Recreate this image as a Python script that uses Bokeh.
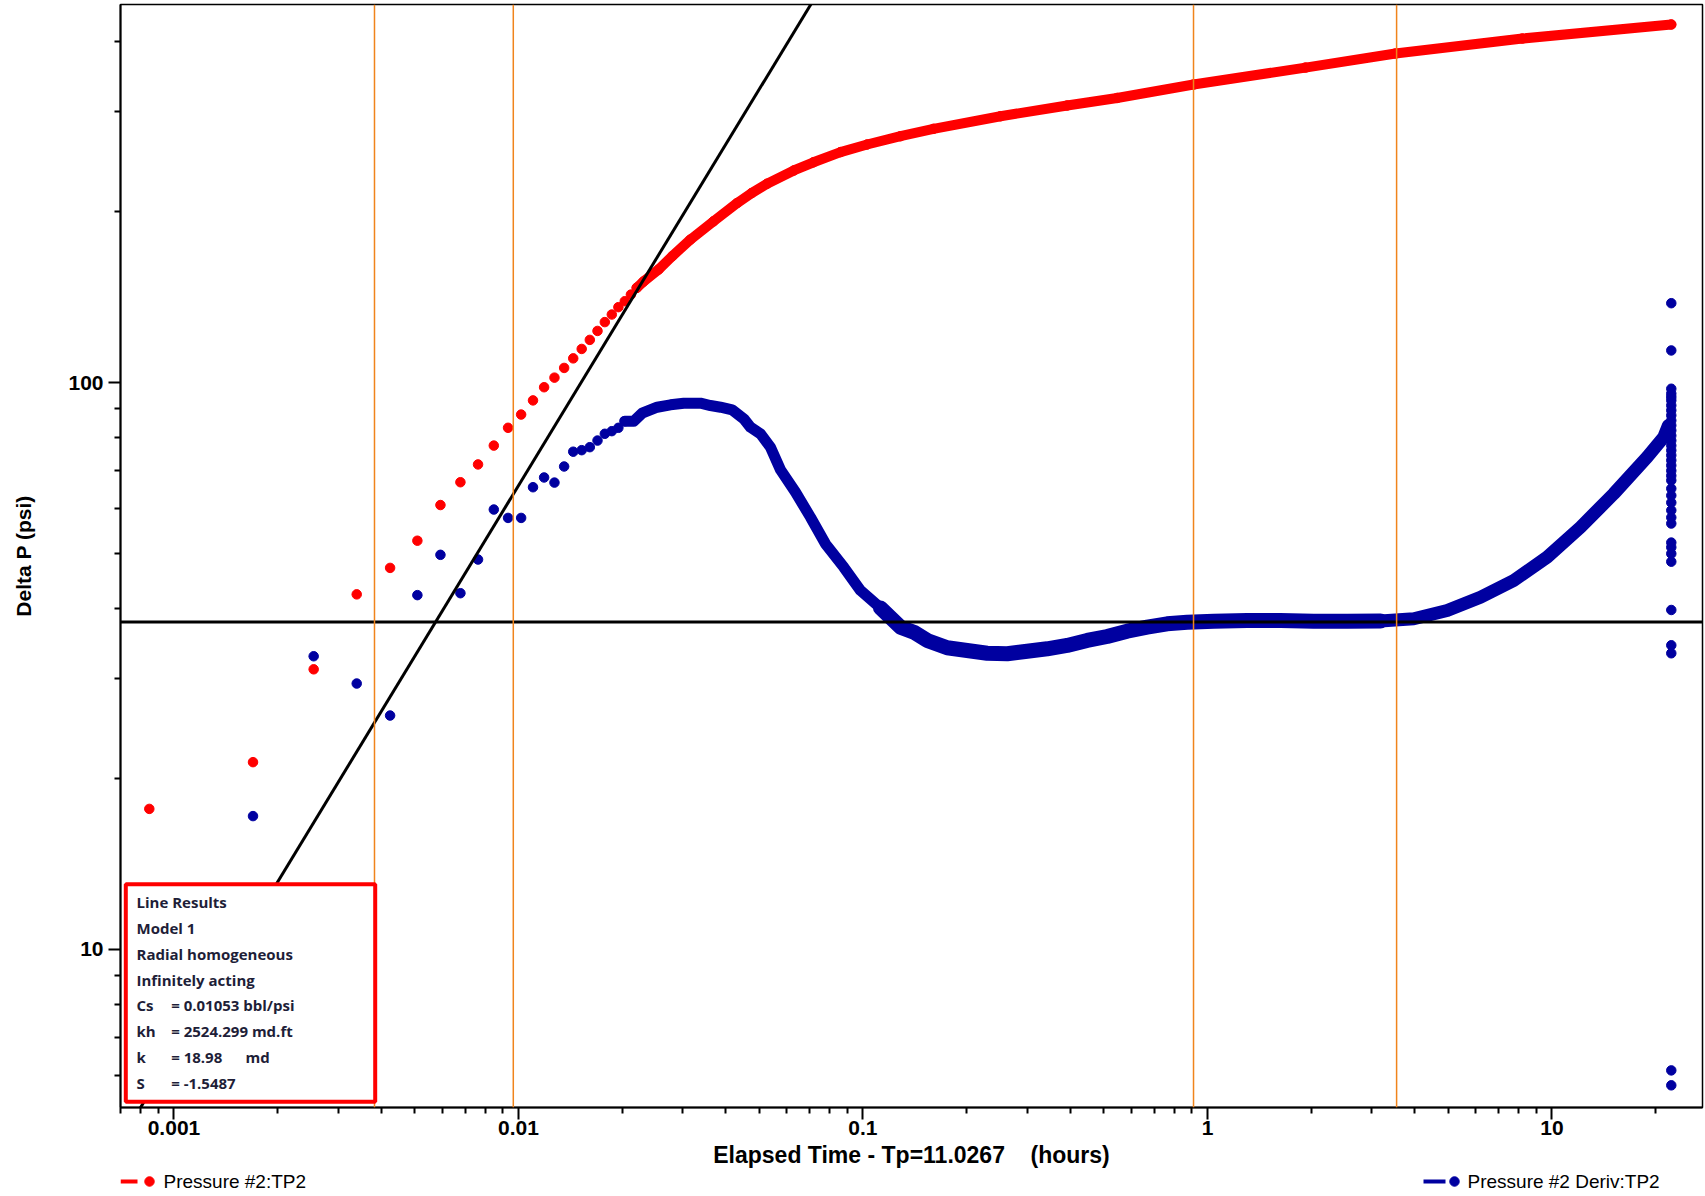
from bokeh.plotting import figure
from bokeh.layouts import column
from bokeh.models import (Range1d, FixedTicker, NumeralTickFormatter, BoxAnnotation,
                          Label, Span)
from bokeh.core.properties import value
from bokeh.embed import file_html
from bokeh.resources import INLINE

# ---------------- data ----------------
x_major = [0.001, 0.01, 0.1, 1, 10]
x_minor = [0.0007, 0.0008, 0.0009,
           0.002, 0.003, 0.004, 0.005, 0.006, 0.007, 0.008, 0.009,
           0.02, 0.03, 0.04, 0.05, 0.06, 0.07, 0.08, 0.09,
           0.2, 0.3, 0.4, 0.5, 0.6, 0.7, 0.8, 0.9,
           2, 3, 4, 5, 6, 7, 8, 9, 20]
y_major = [10, 100]
y_minor = [6, 7, 8, 9, 20, 30, 40, 50, 60, 70, 80, 90, 200, 300, 400]

# Pressure #2:TP2 -- early (separate dots)
press_early_t = [0.000848, 0.001696, 0.002544, 0.003392, 0.00424, 0.005088, 0.005936,
                 0.006784, 0.007632, 0.00848, 0.009328, 0.01018, 0.01102, 0.01187,
                 0.01272, 0.01357, 0.01442, 0.01526, 0.01611, 0.01696, 0.01781,
                 0.01866, 0.0195, 0.02035, 0.0212, 0.02205]
press_early_p = [17.7, 21.4, 31.2, 42.3, 47.1, 52.6, 60.8, 66.7, 71.7, 77.4, 83.2, 87.8,
                 93.0, 98.1, 102.0, 106.1, 110.3, 114.6, 118.9, 123.3, 127.8, 131.8,
                 135.8, 139.1, 142.9, 146.9]
# Pressure #2:TP2 -- dense part
press_t = [0.02205, 0.02307, 0.02549, 0.02794, 0.03156, 0.03681, 0.04313, 0.0475, 0.0527,
           0.063, 0.07183, 0.08605, 0.1028, 0.1285, 0.1602, 0.2507, 0.3915, 0.5468, 0.911,
           1.925, 3.513, 8.21, 22.2]
press_p = [146.9, 150.7, 158.2, 167.0, 178.7, 192.4, 207.3, 215.8, 224.2,
           236.6, 244.6, 254.9, 262.9, 271.9, 280.2, 294.9, 308.0, 317.6, 335.4,
           359.3, 380.4, 404.3, 428.0]

# Pressure #2 Deriv:TP2 -- early (separate dots)
deriv_early_t = [0.001696, 0.002544, 0.003392, 0.00424, 0.005088, 0.005936, 0.006784,
                 0.007632, 0.00848, 0.009328, 0.01018, 0.01102, 0.01187, 0.01272,
                 0.01357, 0.01442, 0.01526, 0.01611, 0.01696, 0.01781, 0.01866,
                 0.0195, 0.02035]
deriv_early_p = [17.19, 32.9, 29.45, 25.86, 42.17, 49.67, 42.5, 48.73, 59.7, 57.7, 57.7,
                 65.36, 68.0, 66.6, 71.1, 75.5, 75.97, 76.9, 79.0, 81.2, 82.07, 83.2, 85.45]
# derivative hump
deriv_hump_t = [0.02035, 0.02161, 0.02285, 0.02527, 0.02762, 0.03019, 0.03376, 0.03608,
                0.03859, 0.04173, 0.04508, 0.04714, 0.0504, 0.05389, 0.05761, 0.06369,
                0.07042, 0.07782, 0.08796, 0.09834, 0.1124]
deriv_hump_p = [85.45, 85.45, 88.28, 90.45, 91.35, 91.93, 91.93, 91.08, 90.45, 89.5, 86.3,
                83.4, 81.2, 76.9, 70.15, 64.06, 57.86, 51.94, 47.24, 42.98, 40.03]
# derivative trough and radial flow plateau
deriv_mid_t = [0.1124, 0.1285, 0.1405, 0.1536, 0.1756, 0.2006, 0.2294, 0.2622, 0.2997,
               0.3425, 0.3915, 0.4475, 0.5115, 0.5846, 0.6683, 0.7638, 0.873, 1.043,
               1.304, 1.629, 2.035, 2.544, 3.179]
deriv_mid_p = [40.03, 37.02, 36.28, 35.08, 34.05, 33.68, 33.31, 33.23, 33.58, 33.91,
               34.38, 35.08, 35.65, 36.43, 37.02, 37.53, 37.77, 37.93, 38.03, 38.03,
               37.93, 37.93, 37.97]
# derivative late rise
deriv_late_t = [3.179, 3.971, 4.964, 6.201, 7.745, 9.685, 12.1, 15.11, 18.89, 21.11, 21.78]
deriv_late_p = [37.97, 38.31, 39.62, 41.81, 44.75, 49.2, 55.56, 63.65, 73.84, 80.1, 84.0]
# derivative end points (last time)
deriv_end_t = 22.2
deriv_end_p = [138.0, 113.9, 97.5, 95.6, 94.3, 93.0, 91.1, 89.3, 87.5, 85.7, 84.0, 82.3,
               80.6, 79.0, 77.4, 75.9, 74.4, 72.9, 71.4, 69.9, 68.5, 67.2, 65.0, 63.2,
               61.4, 59.5, 57.8, 56.4, 52.2, 51.2, 49.9, 48.3, 39.7, 34.4, 33.3, 6.12, 5.76]

# analysis lines
radial_level = 37.8                     # horizontal IARF line (psi)
unit_slope_t = [0.0005, 0.1]            # unit-slope line end points
unit_slope_p = [3.29, 658.0]
marker_times = [0.00382, 0.00966, 0.911, 3.54]

results = [("Line Results", None, None), ("Model 1", None, None),
           ("Radial homogeneous", None, None), ("Infinitely acting", None, None),
           ("Cs", "= 0.01053 bbl/psi", None), ("kh", "= 2524.299 md.ft", None),
           ("k", "= 18.98", "md"), ("S", "= -1.5487", None)]

series_names = ["Pressure #2:TP2", "Pressure #2 Deriv:TP2"]

RED = "#FF0000"
BLUE = "#0000A0"
ORANGE = "#F0841C"

# ---------------- main figure ----------------
p = figure(width=1705, height=1171, x_axis_type="log", y_axis_type="log",
           x_range=Range1d(0.0006995, 27.35), y_range=Range1d(5.264, 464.2),
           output_backend="svg", toolbar_location=None,
           min_border_left=120, min_border_right=3, min_border_top=4, min_border_bottom=64,
           background_fill_color="white", border_fill_color="white")
p.grid.visible = False
p.outline_line_color = "black"
p.outline_line_width = 1.5

for ax in (p.xaxis[0], p.yaxis[0]):
    ax.axis_line_width = 2
    ax.major_tick_line_width = 2
    ax.minor_tick_line_width = 2
    ax.major_tick_out = 12
    ax.major_tick_in = 0
    ax.minor_tick_out = 6
    ax.minor_tick_in = 0
    ax.major_label_text_font = "Liberation Sans"
    ax.major_label_text_font_style = "bold"
    ax.major_label_text_font_size = "21px"
    ax.major_label_text_color = "black"
    ax.axis_label_text_font = "Liberation Sans"
    ax.axis_label_text_font_style = "bold"
    ax.axis_label_text_color = "black"
    ax.formatter = NumeralTickFormatter(format="0.[000]")

p.xaxis.ticker = FixedTicker(ticks=x_major, minor_ticks=x_minor)
p.yaxis.ticker = FixedTicker(ticks=y_major, minor_ticks=y_minor)
p.xaxis.axis_label = "Elapsed Time - Tp=11.0267\u00a0\u00a0\u00a0 (hours)"
p.xaxis.axis_label_text_font_size = "23px"
p.xaxis.major_label_standoff = 1
p.xaxis.axis_label_standoff = 4
p.yaxis.axis_label = "Delta P (psi)"
p.yaxis.axis_label_text_font_size = "21px"
p.yaxis.major_label_standoff = 5
p.yaxis.axis_label_standoff = 30

# data glyphs
DOT = 9.5
p.line(press_t, press_p, line_color=RED, line_width=10, line_join="round", line_cap="round")
p.scatter(press_early_t, press_early_p, size=DOT, color=RED)
p.scatter(press_t, press_p, size=DOT, color=RED)

p.line(deriv_hump_t, deriv_hump_p, line_color=BLUE, line_width=11, line_join="round", line_cap="round")
p.line(deriv_mid_t, deriv_mid_p, line_color=BLUE, line_width=15, line_join="round", line_cap="round")
p.line(deriv_late_t, deriv_late_p, line_color=BLUE, line_width=13, line_join="round", line_cap="round")
p.scatter(deriv_early_t, deriv_early_p, size=DOT, color=BLUE)
p.scatter([deriv_end_t] * len(deriv_end_p), deriv_end_p, size=DOT, color=BLUE)

# analysis lines
p.line(unit_slope_t, unit_slope_p, line_color="black", line_width=3)
p.add_layout(Span(location=radial_level, dimension="width", line_color="black", line_width=3))
for mt in marker_times:
    p.add_layout(Span(location=mt, dimension="height", line_color=ORANGE, line_width=1.5))

# results box
p.add_layout(BoxAnnotation(left=5.3, right=254.7, top=223.3, bottom=5.7,
                           left_units="screen", right_units="screen",
                           top_units="screen", bottom_units="screen",
                           fill_color="white", fill_alpha=1.0,
                           line_color=RED, line_alpha=1.0, line_width=4))
TXT = dict(x_units="screen", y_units="screen", text_font="Open Sans", text_font_style="bold",
           text_font_size="15px", text_color="#1E1E38", text_baseline="middle")
y0, dy = 205.3, 25.8
for i, (a, b, c) in enumerate(results):
    yy = y0 - i * dy
    p.add_layout(Label(x=16, y=yy, text=a, **TXT))
    if b:
        p.add_layout(Label(x=50.7, y=yy, text=b, **TXT))
    if c:
        p.add_layout(Label(x=125, y=yy, text=c, **TXT))

# ---------------- legend strip below ----------------
# the strip's frame is aligned with the main frame (canvas x 120..1702)
leg = figure(width=1705, height=25, x_range=Range1d(120, 1702), y_range=Range1d(0, 25),
             output_backend="svg", toolbar_location=None, min_border=0,
             x_axis_type=None, y_axis_type=None, outline_line_color=None,
             background_fill_color="white", border_fill_color="white")
leg.grid.visible = False
sw_x0 = [120, 1423]
sw_x1 = [137, 1445]
dot_x = [149, 1454]
txt_x = [163, 1467]
row_y = [15, 15]
leg.segment(x0=sw_x0, y0=row_y, x1=sw_x1, y1=row_y, line_color=[RED, BLUE], line_width=4)
leg.scatter(x=dot_x, y=row_y, size=DOT, color=[RED, BLUE])
leg.text(x=txt_x, y=row_y, text=series_names, text_font=value("Liberation Sans"),
         text_font_size="19px", text_baseline="middle", text_color="black")

layout = column(p, leg, spacing=0)
open("out.html", "w").write(file_html(layout, INLINE))
